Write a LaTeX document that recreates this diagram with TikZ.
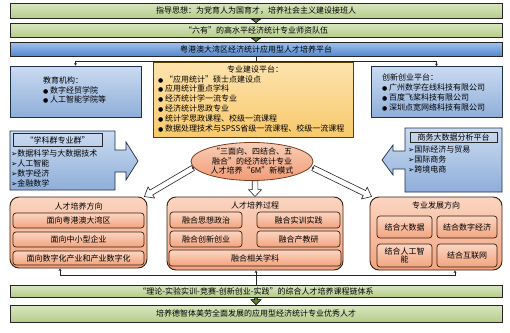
\documentclass[tikz,border=0pt]{standalone}
\usepackage{fontspec}
\setmainfont{Noto Sans CJK SC}
\newfontfamily\symf{DejaVu Sans}
\usetikzlibrary{shapes.geometric,calc,arrows.meta}
\definecolor{gTop}{HTML}{D9E6C2}
\definecolor{gBot}{HTML}{B6CD8A}
\definecolor{gDark}{HTML}{5E7A30}
\definecolor{bbTop}{HTML}{A2C2EC}
\definecolor{bbBot}{HTML}{5289CE}
\definecolor{lbTop}{HTML}{CADBF1}
\definecolor{lbBot}{HTML}{8FAED9}
\definecolor{lbLine}{HTML}{1F2F4F}
\definecolor{yTop}{HTML}{FDE3AE}
\definecolor{yBot}{HTML}{F8C96C}
\definecolor{yLine}{HTML}{5A4100}
\definecolor{oTop}{HTML}{FBD5C2}
\definecolor{oBot}{HTML}{F2A47F}
\definecolor{oLine}{HTML}{3B1E0E}
\definecolor{eTop}{HTML}{F9CDB6}
\definecolor{eBot}{HTML}{F09C77}
\definecolor{eLine}{HTML}{7A3A1A}
\newcommand\bul{{\symf\fontsize{6}{6}\selectfont ●}\ }
\newcommand\arr{{\symf\fontsize{7.5}{7.5}\selectfont ➢}}
% #1 style, #2 from, #3 to, #4 name of head base, #5 shaft half width, #6 head half width, #7 head length
\newcommand\blockarr[7]{%
  \coordinate (#4) at ($(#3)!#7!(#2)$);
  \draw[#1] ($(#2)!#5!90:(#3)$) -- ($(#4)!#5!90:(#3)$) -- ($(#4)!#6!90:(#3)$) -- (#3)
    -- ($(#4)!#6!-90:(#3)$) -- ($(#4)!#5!-90:(#3)$) -- ($(#2)!#5!-90:(#3)$) -- cycle;}
\begin{document}
\begin{tikzpicture}[x=1pt,y=-1pt,
  every node/.style={font=\fontsize{8}{9.8}\selectfont, inner sep=0pt},
  greenbar/.style={draw=black!85, line width=0.7pt, top color=gTop, bottom color=gBot, minimum width=492pt},
  bluebar/.style={draw=black!85, line width=0.7pt, top color=bbTop, bottom color=bbBot, minimum width=492pt},
  bluebox/.style={draw=lbLine, line width=0.7pt, top color=lbTop, bottom color=lbBot},
  platbox/.style={draw=yLine, line width=0.7pt, top color=yTop, bottom color=yBot},
  groupbox/.style={draw=oLine, line width=0.9pt, top color=oTop, bottom color=oBot, rounded corners=9pt},
  itembox/.style={draw=oLine, line width=0.7pt, top color=oTop, bottom color=oBot, rounded corners=3pt, align=center},
  titlebox/.style={draw=black!85, line width=0.6pt},
  conn/.style={draw=black!85, line width=0.6pt},
  arrowend/.style={-{Stealth[length=2.5pt,width=2.8pt]}},
  bararrow/.style={draw=black, line width=0.5pt, fill=gDark},
  hollowarrow/.style={draw=black!85, line width=0.6pt, fill=white},
  listtext/.style={anchor=west, align=left, font=\fontsize{8}{10}\selectfont},
]
\fill[white] (0,0) rectangle (510,332);
\useasboundingbox (0,0) rectangle (510,332);

% ---- top bars
\node[greenbar, minimum height=15pt] (bar1) at (256,10.5) {指导思想：为党育人为国育才，培养社会主义建设接班人};
\node[greenbar, minimum height=14pt] (bar2) at (256,30) {“六有”的高水平经济统计专业师资队伍};
\node[bluebar, minimum height=14pt] (bar3) at (256,49) {粤港澳大湾区经济统计应用型人才培养平台};
\blockarr{bararrow}{bar1.south}{bar2.north}{h1}{1.3pt}{4.5pt}{3.5pt}
\blockarr{bararrow}{bar2.south}{bar3.north}{h2}{1.3pt}{4.5pt}{3.5pt}

% ---- platform boxes
\node[bluebox, minimum width=131pt, minimum height=51pt] (edu) at (75.5,91.5) {};
\node[anchor=west, align=left] (eduT) at (43,90) {教育机构：\\\bul 数字经贸学院\\\bul 人工智能学院等};

\node[platbox, minimum width=200pt, minimum height=75pt] (plat) at (253,99.5) {};
\node (platT) at (255,69) {专业建设平台：};
\node[anchor=west, align=left] (platL) at (158,103.5) {\bul “应用统计”硕士点建设点\\\bul 应用统计重点学科\\\bul 经济统计学一流专业\\\bul 经济统计思政专业\\\bul 统计学思政课程、校级一流课程\\\bul 数据处理技术与SPSS省级一流课程、校级一流课程};

\node[bluebox, minimum width=131pt, minimum height=51pt] (innov) at (436.5,92) {};
\node[anchor=west, align=left] (innovT) at (382,92.5) {创新创业平台：\\\bul 广州数学在线科技有限公司\\\bul 百度飞桨科技有限公司\\\bul 深圳点宽网络科技有限公司};

% connectors from bar3
\coordinate (jt) at ($(bar3.south)+(0,5)$);
\draw[conn] (bar3.south) -- (bar3.south |- plat.north);
\draw[conn] (jt -| edu.north) -- (jt -| innov.north);
\draw[conn, arrowend] (jt -| edu.north) -- (edu.north);
\draw[conn, arrowend] (jt -| innov.north) -- (innov.north);

% ---- arrow callouts
\draw[bluebox] (10,131) -- (115,131) -- (115,150) -- (126,150) -- (126,142) -- (138,161) -- (126,180) -- (126,172) -- (115,172) -- (115,190) -- (10,190) -- cycle;
\node[titlebox, minimum width=89pt, minimum height=13pt] (xkqT) at (57.5,140) {“学科群专业群”};
\node[listtext] (xkqL) at (11,168) {\arr 数据科学与大数据技术\\\arr 人工智能\\\arr 数字经济\\\arr 金融数学};

\draw[bluebox] (502,128) -- (405,128) -- (405,151) -- (393,151) -- (393,145) -- (382,160) -- (393,175) -- (393,169) -- (405,169) -- (405,192) -- (502,192) -- cycle;
\node[titlebox, minimum width=87pt, minimum height=10pt] (swT) at (453.5,137.5) {商务大数据分析平台};
\node[listtext] (swL) at (408,159.5) {\arr 国际经济与贸易\\\arr 国际商务\\\arr 跨境电商};

% ---- ellipse
\node[ellipse, draw=eLine, line width=0.8pt, top color=eTop, bottom color=eBot, minimum width=122pt, minimum height=38pt] (ell) at (252,161.5) {};
\node[align=center] (ellT) at (252,161) {“三面向、四结合、五\\融合”的经济统计专业\\人才培养“6M”新模式};

% ---- bottom groups
\node[groupbox, minimum width=137pt, minimum height=71pt] (dir) at (78.5,232.5) {};
\node (dirT) at (78.5,206) {人才培养方向};
\node[itembox, minimum width=131pt, minimum height=15pt] (d1) at (78.5,220.5) {面向粤港澳大湾区};
\node[itembox, minimum width=131pt, minimum height=15pt] (d2) at (78.5,239.5) {面向中小型企业};
\node[itembox, minimum width=131pt, minimum height=14pt] (d3) at (78.5,258) {面向数字化产业和产业数字化};

\node[groupbox, minimum width=176pt, minimum height=73pt] (proc) at (255,233.5) {};
\node (procT) at (255,205) {人才培养过程};
\node[itembox, minimum width=72pt, minimum height=16pt] (p1) at (206,220) {融合思想政治};
\node[itembox, minimum width=83pt, minimum height=16pt] (p2) at (298.5,220) {融合实训实践};
\node[itembox, minimum width=72pt, minimum height=16pt] (p3) at (206,239) {融合创新创业};
\node[itembox, minimum width=83pt, minimum height=16pt] (p4) at (298.5,239) {融合产教研};
\node[itembox, minimum width=172pt, minimum height=16pt] (p5) at (255,258) {融合相关学科};

\node[groupbox, minimum width=132pt, minimum height=73pt] (dev) at (436,233.5) {};
\node (devT) at (436,205) {专业发展方向};
\node[itembox, minimum width=55pt, minimum height=22pt] (v1) at (404.5,227) {结合大数据};
\node[itembox, minimum width=60pt, minimum height=22pt] (v2) at (467,227) {结合数字经济};
\node[itembox, minimum width=55pt, minimum height=23pt, font=\fontsize{8}{8.5}\selectfont] (v3) at (404.5,255.5) {结合人工智\\能};
\node[itembox, minimum width=60pt, minimum height=23pt] (v4) at (467,255.5) {结合互联网};

% ---- hollow arrows from ellipse
\coordinate (aL1) at ($(ell.center)+(-59,6.5)$);
\coordinate (aL2) at ($(dir.north east)+(-3,0)$);
\coordinate (aR1) at ($(ell.center)+(61,6.5)$);
\coordinate (aR2) at ($(dev.north west)+(2,0)$);
\coordinate (aD1) at (proc.north |- ell.south);
\blockarr{hollowarrow}{aL1}{aL2}{hL}{2.8pt}{6.5pt}{8pt}
\blockarr{hollowarrow}{aR1}{aR2}{hR}{2.8pt}{6.5pt}{8pt}
\blockarr{hollowarrow}{aD1}{proc.north}{hD}{2.8pt}{6.5pt}{7pt}
\fill[black!85] (aL1) circle (1.2pt);
\fill[black!85] (aR1) circle (1.2pt);

% ---- bottom bars
\node[greenbar, minimum height=12pt] (bar4) at (256,291) {“理论-实验实训-竞赛-创新创业-实践”的综合人才培养课程链体系};
\node[greenbar, minimum height=17pt] (bar5) at (256,313.5) {培养德智体美劳全面发展的应用型经济统计专业优秀人才};
\blockarr{bararrow}{bar4.south}{bar5.north}{h3}{1.5pt}{5pt}{5pt}

% ---- bottom connectors
\coordinate (jb) at ($(bar4.north)+(0,-9)$);
\coordinate (dL) at ($(dir.south)+(-18.5,0)$);
\coordinate (dR) at ($(dev.south)+(19,0)$);
\draw[conn] (jb -| dL) -- (jb -| dR);
\draw[conn, arrowend] (jb -| dL) -- (dL);
\draw[conn, arrowend] (jb -| dR) -- (dR);
\draw[conn, arrowend] (bar4.north) -- (bar4.north |- proc.south);
\end{tikzpicture}
\end{document}
